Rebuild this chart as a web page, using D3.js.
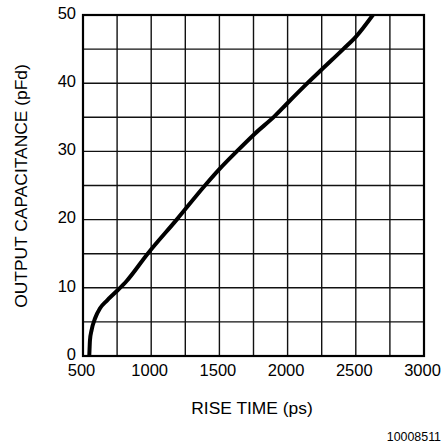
<!DOCTYPE html>
<html>
<head>
<meta charset="utf-8">
<script src="https://cdn.jsdelivr.net/npm/d3@7"></script>
<style>
  body { margin: 0; background: #fff; }
  svg { display: block; font-family: "Liberation Sans", Arial, sans-serif; }
</style>
</head>
<body>
<svg width="443" height="445"></svg>
<script>
// curve (grid crossings mostly)
var riseTime = [546, 548, 551, 563, 588, 625, 674, 752, 820, 974, 1187, 1394, 1500, 1627, 1760, 1907, 2000, 2140, 2250, 2408, 2500, 2625];
var capacitance = [0, 1, 2.3, 3.8, 5.5, 7.0, 8.1, 9.6, 11.0, 15, 20, 25, 27.4, 30, 32.6, 35.2, 37.1, 39.9, 42.0, 45, 46.8, 50];

var xTicks = [500, 1000, 1500, 2000, 2500, 3000];
var yTicks = [0, 10, 20, 30, 40, 50];
var xGrid = d3.range(500, 3001, 250);
var yGrid = d3.range(0, 51, 5);

// plot box (pixels)
var pL = 83, pR = 424, pT = 15, pB = 356;

var svg = d3.select("svg");

var x = d3.scaleLinear().domain([500, 3000]).range([pL, pR]);
var y = d3.scaleLinear().domain([0, 50]).range([pB, pT]);

// grid
var grid = svg.append("g").attr("stroke", "#111").attr("stroke-width", 1.4);
grid.selectAll(".vx").data(xGrid).enter().append("line")
    .attr("x1", function(d) { return x(d); })
    .attr("x2", function(d) { return x(d); })
    .attr("y1", pT).attr("y2", pB);
grid.selectAll(".hy").data(yGrid).enter().append("line")
    .attr("y1", function(d) { return y(d); })
    .attr("y2", function(d) { return y(d); })
    .attr("x1", pL).attr("x2", pR);

// frame
svg.append("rect")
    .attr("x", pL).attr("y", pT)
    .attr("width", pR - pL).attr("height", pB - pT)
    .attr("fill", "none").attr("stroke", "#000").attr("stroke-width", 2.2);

// tick labels
var xAxis = d3.axisBottom(x).tickValues(xTicks).tickFormat(d3.format("d")).tickSize(0).tickPadding(8);
var gx = svg.append("g").attr("transform", "translate(-2," + pB + ")").call(xAxis);
gx.select(".domain").remove();
gx.selectAll("text").attr("font-size", 16.5).attr("fill", "#000")
    .attr("font-family", "Liberation Sans, Arial, sans-serif");

var yAxis = d3.axisLeft(y).tickValues(yTicks).tickFormat(d3.format("d")).tickSize(0).tickPadding(7);
var gy = svg.append("g").attr("transform", "translate(" + pL + ",-2)").call(yAxis);
gy.select(".domain").remove();
gy.selectAll("text").attr("font-size", 16.5).attr("fill", "#000")
    .attr("font-family", "Liberation Sans, Arial, sans-serif");

// curve
svg.append("clipPath").attr("id", "plot")
  .append("rect").attr("x", pL).attr("y", pT - 1)
  .attr("width", pR - pL).attr("height", pB - pT + 2);

var line = d3.line()
    .x(function(d, i) { return x(riseTime[i]); })
    .y(function(d) { return y(d); })
    .curve(d3.curveMonotoneX);

svg.append("path")
    .attr("d", line(capacitance))
    .attr("fill", "none")
    .attr("stroke", "#000")
    .attr("stroke-width", 4)
    .attr("stroke-linecap", "round")
    .attr("clip-path", "url(#plot)");

// titles
svg.append("text")
    .attr("x", 252).attr("y", 414)
    .attr("text-anchor", "middle")
    .attr("font-size", 17.4)
    .text("RISE TIME (ps)");

svg.append("text")
    .attr("transform", "translate(26.5,186) rotate(-90)")
    .attr("text-anchor", "middle")
    .attr("font-size", 17.4)
    .text("OUTPUT CAPACITANCE (pFd)");

svg.append("text")
    .attr("x", 441).attr("y", 441)
    .attr("text-anchor", "end")
    .attr("font-size", 12.4)
    .text("10008511");
</script>
</body>
</html>
